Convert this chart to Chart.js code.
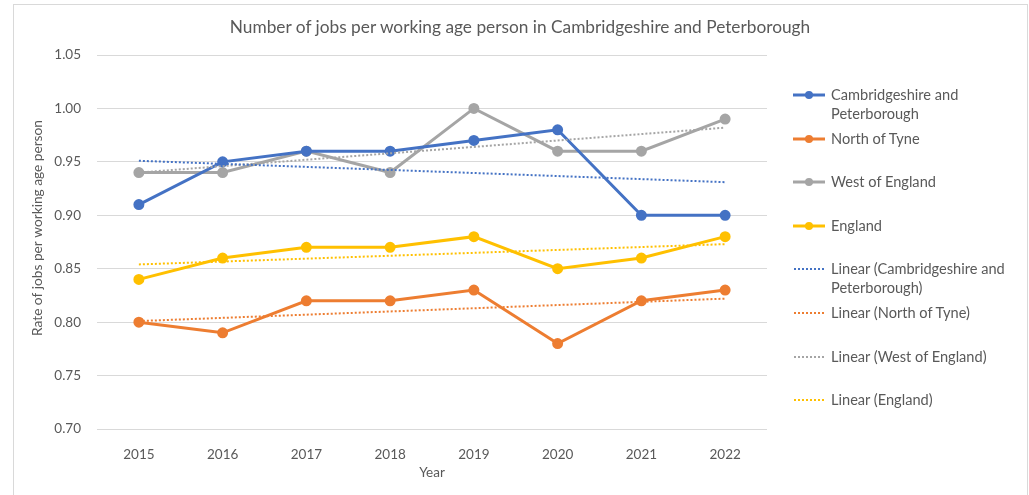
<!DOCTYPE html>
<html>
<head>
<meta charset="utf-8">
<script src="https://cdn.jsdelivr.net/npm/chart.js@4/dist/chart.umd.min.js"></script>
<style>
  body { margin: 0; background: #fff; font-family: Lato, "Noto Sans", sans-serif; }
  #wrap { position: relative; width: 1029px; height: 495px; overflow: hidden; }
  #frame { position: absolute; left: 13px; top: 4px; width: 1013px; height: 520px; border: 1px solid #d9d9d9; }
  #chart { position: absolute; left: 0; top: 0; }
  #title { position: absolute; left: 0; width: 1040px; top: 16px; text-align: center; font-size: 17.3px; color: #595959; line-height: 22px; }
  #legend { position: absolute; left: 793px; top: 0; }
  .item { position: absolute; left: 0; display: flex; align-items: flex-start; font-size: 14.6px; color: #595959; line-height: 19px; }
  .item svg { flex: none; margin-right: 6px; }
  .item span { width: 205px; }
</style>
</head>
<body>
<div id="wrap">
  <div id="frame"></div>
  <canvas id="chart" width="1029" height="495"></canvas>
  <div id="title">Number of jobs per working age person in Cambridgeshire and Peterborough</div>
  <div id="legend"></div>
</div>
<script>
const years = ['2015', '2016', '2017', '2018', '2019', '2020', '2021', '2022'];

const cambsPeterborough = [0.91, 0.95, 0.96, 0.96, 0.97, 0.98, 0.90, 0.90];
const northOfTyne = [0.80, 0.79, 0.82, 0.82, 0.83, 0.78, 0.82, 0.83];
const westOfEngland = [0.94, 0.94, 0.96, 0.94, 1.00, 0.96, 0.96, 0.99];
const england = [0.84, 0.86, 0.87, 0.87, 0.88, 0.85, 0.86, 0.88];

// linear trend lines, start (2015) and end (2022) values
const trendCambsPeterborough = [0.951, 0.931];
const trendNorthOfTyne = [0.801, 0.822];
const trendWestOfEngland = [0.940, 0.982];
const trendEngland = [0.854, 0.873];

const yTicks = [0.70, 0.75, 0.80, 0.85, 0.90, 0.95, 1.00, 1.05];

const textColor = '#595959';
const gridColor = '#d9d9d9';
const fontFamily = 'Lato, "Noto Sans", sans-serif';

function series(label, values, color) {
    return {
        label: label,
        data: values,
        borderColor: color,
        backgroundColor: color,
        borderWidth: 3,
        pointRadius: 4,
        pointHoverRadius: 4,
        tension: 0,
        isTrend: false
    };
}

function trend(label, ends, color) {
    return {
        label: label,
        data: [{ x: years[0], y: ends[0] }, { x: years[years.length - 1], y: ends[1] }],
        borderColor: color,
        backgroundColor: color,
        borderWidth: 2,
        borderDash: [2, 2],
        pointRadius: 0,
        tension: 0,
        isTrend: true
    };
}

const datasets = [
    series('Cambridgeshire and Peterborough', cambsPeterborough, '#4472C4'),
    series('North of Tyne', northOfTyne, '#ED7D31'),
    series('West of England', westOfEngland, '#A5A5A5'),
    series('England', england, '#FFC000'),
    trend('Linear (Cambridgeshire and Peterborough)', trendCambsPeterborough, '#4472C4'),
    trend('Linear (North of Tyne)', trendNorthOfTyne, '#ED7D31'),
    trend('Linear (West of England)', trendWestOfEngland, '#A5A5A5'),
    trend('Linear (England)', trendEngland, '#FFC000')
];

// trend lines sit underneath the main series
const drawOrder = datasets.slice(4).concat(datasets.slice(0, 4));

// y axis title, drawn a little above the middle of the plot
const yTitlePlugin = {
    id: 'yTitle',
    afterDraw(chart) {
        const c = chart.ctx;
        c.save();
        c.translate(38, 228);
        c.rotate(-Math.PI / 2);
        c.fillStyle = textColor;
        c.font = '13.7px ' + fontFamily;
        c.textAlign = 'center';
        c.textBaseline = 'middle';
        c.fillText('Rate of jobs per working age person', 0, 0);
        c.restore();
    }
};

const ctx = document.getElementById('chart').getContext('2d');
new Chart(ctx, {
    type: 'line',
    data: {
        labels: years,
        datasets: drawOrder
    },
    plugins: [yTitlePlugin],
    options: {
        responsive: false,
        animation: false,
        layout: {
            padding: { left: 24, right: 262, top: 55, bottom: 10 }
        },
        plugins: {
            legend: { display: false },
            tooltip: { enabled: false }
        },
        scales: {
            x: {
                type: 'category',
                offset: true,
                grid: { display: false },
                border: { display: false },
                ticks: {
                    color: textColor,
                    font: { family: fontFamily, size: 13.5 },
                    padding: 10,
                    maxRotation: 0
                },
                title: {
                    display: true,
                    text: 'Year',
                    color: textColor,
                    font: { family: fontFamily, size: 13.5 },
                    padding: { top: 2 }
                },
                afterFit: function (scale) { scale.height = 56; }
            },
            y: {
                min: 0.70,
                max: 1.05,
                afterBuildTicks: function (scale) {
                    scale.ticks = yTicks.map(v => ({ value: v }));
                },
                grid: { color: gridColor, lineWidth: 1, drawTicks: false },
                border: { display: false },
                ticks: {
                    color: textColor,
                    font: { family: fontFamily, size: 13.5 },
                    padding: 16,
                    callback: v => Number(v).toFixed(2)
                },
                afterFit: function (scale) { scale.width = 73; }
            }
        }
    }
});

// legend on the right, built from the datasets
const legend = document.getElementById('legend');
datasets.forEach((ds, i) => {
    const item = document.createElement('div');
    item.className = 'item';
    item.style.top = (85 + i * 43.6) + 'px';
    let mark;
    if (ds.isTrend) {
        mark = `<svg width="32" height="19"><line x1="1" y1="10" x2="32" y2="10" stroke="${ds.borderColor}" stroke-width="2" stroke-dasharray="2,2"/></svg>`;
    } else {
        mark = `<svg width="32" height="19"><line x1="0" y1="10" x2="32" y2="10" stroke="${ds.borderColor}" stroke-width="3"/><circle cx="16" cy="10" r="4" fill="${ds.borderColor}"/></svg>`;
    }
    item.innerHTML = mark + '<span>' + ds.label + '</span>';
    legend.appendChild(item);
});
</script>
</body>
</html>
